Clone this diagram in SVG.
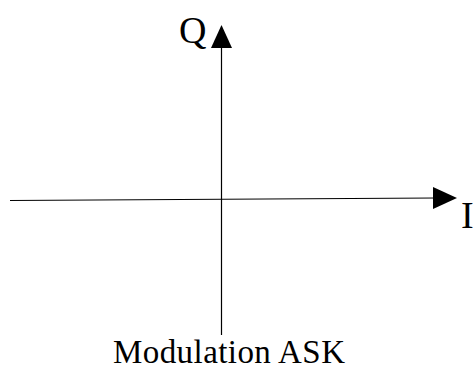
<svg xmlns="http://www.w3.org/2000/svg" width="476" height="379" viewBox="0 0 476 379">
<style>
.ax{stroke:#000;stroke-width:1.2;fill:none}
text{fill:#000;font-family:'Liberation Serif','Times New Roman','DejaVu Serif','Noto Serif',serif}
</style>
<rect width="476" height="379" fill="#fff"/>
<g id="connectors">
<line class="ax" x1="10" y1="200.5" x2="436" y2="198"/>
<polygon points="433,187 457,198 433,209" fill="#000"/>
<line class="ax" x1="221.5" y1="335" x2="221.5" y2="46"/>
<polygon points="211,48 221.5,25 232,48" fill="#000"/>
</g>
<g id="label-Q"><text x="179" y="43" font-size="38">Q</text></g>
<g id="label-I"><text x="461" y="228" font-size="38">I</text></g>
<g id="caption"><text x="113" y="363" font-size="33" textLength="232">Modulation ASK</text></g>
</svg>
